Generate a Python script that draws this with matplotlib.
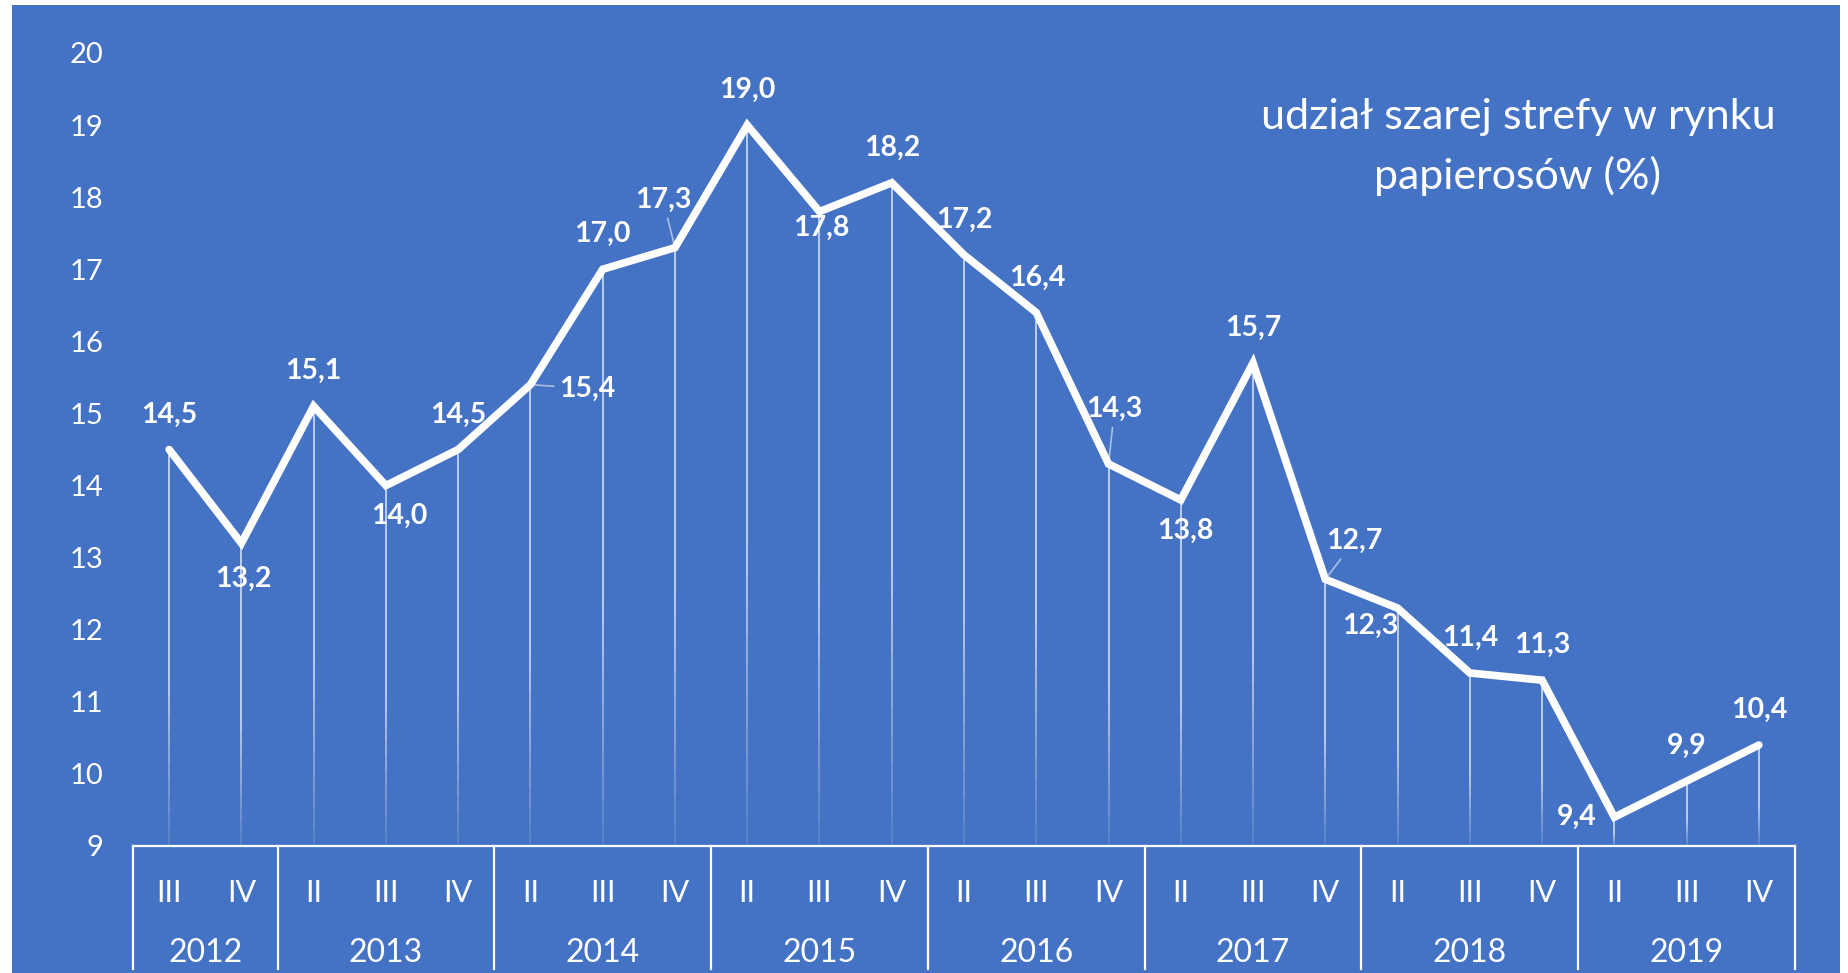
import numpy as np
import matplotlib.pyplot as plt
import matplotlib.transforms as mtransforms
from matplotlib.collections import LineCollection
from matplotlib.patches import Rectangle

plt.rcParams["font.family"] = ["Lato", "DejaVu Sans"]

BLUE = "#4472C4"

years = ["2012", "2013", "2014", "2015", "2016", "2017", "2018", "2019"]
quarters_per_year = [2, 3, 3, 3, 3, 3, 3, 3]
quarters = ["III", "IV",
            "II", "III", "IV",
            "II", "III", "IV",
            "II", "III", "IV",
            "II", "III", "IV",
            "II", "III", "IV",
            "II", "III", "IV",
            "II", "III", "IV"]
share = [14.5, 13.2, 15.1, 14.0, 14.5, 15.4, 17.0, 17.3, 19.0, 17.8, 18.2, 17.2,
         16.4, 14.3, 13.8, 15.7, 12.7, 12.3, 11.4, 11.3, 9.4, 9.9, 10.4]

# label offsets from the point, in pixels (dx right, dy down)
label_offsets = [(0, -35), (2, 36), (0, -35), (13, 30), (0, -35), (57, 4),
                 (0, -35), (-12, -48), (0, -35), (2, 16), (0, -35), (0, -35),
                 (1, -35), (6, -55), (5, 31), (0, -35), (29, -38), (-27, 18),
                 (0, -35), (0, -35), (-38, 0), (0, -35), (0, -35)]
leader_idx = {5, 7, 13, 16}

W, H = 1848, 973
fig = plt.figure(figsize=(W / 100, H / 100), dpi=100, facecolor="white")
bg = Rectangle((12 / W, 0), (1840 - 12) / W, 1 - 5 / H,
               transform=fig.transFigure, facecolor=BLUE, edgecolor="none",
               zorder=-10)
fig.add_artist(bg)

left, right, top, bottom = 133, 1795, 53, 846
ax = fig.add_axes([left / W, 1 - bottom / H, (right - left) / W, (bottom - top) / H])
ax.set_facecolor("none")
ax.set_zorder(1)

x = np.arange(len(share))
ax.set_xlim(-0.5, len(share) - 0.5)
ax.set_ylim(9, 20)

# drop lines, fading toward the axis
segs, cols = [], []
for xi, v in zip(x, share):
    ys = np.linspace(9, v, 25)
    for a, b in zip(ys[:-1], ys[1:]):
        segs.append([(xi, a), (xi, b)])
        frac = (a - 9) / (v - 9)
        cols.append((1, 1, 1, 0.15 + 0.6 * min(1, frac * 2.5)))
ax.add_collection(LineCollection(segs, colors=cols, linewidths=1.2, zorder=2))

ax.plot(x, share, color="white", lw=5.5, solid_joinstyle="miter",
        solid_capstyle="round", zorder=3)

for i, (xi, v) in enumerate(zip(x, share)):
    dx, dy = label_offsets[i]
    txt = f"{v:.1f}".replace(".", ",")
    kw = {}
    if i in leader_idx:
        kw["arrowprops"] = dict(arrowstyle="-", color=(1, 1, 1, 0.55), lw=1.2,
                                shrinkA=2, shrinkB=1)
    ax.annotate(txt, (xi, v), xytext=(dx * 0.72, -dy * 0.72),
                textcoords="offset points", ha="center", va="center",
                color="white", fontsize=20.5, fontweight="bold", zorder=4, **kw)

for s in ax.spines.values():
    s.set_visible(False)
ax.set_yticks(range(9, 21))
ax.tick_params(axis="y", length=0, pad=21, labelsize=21, labelcolor="white")
ax.set_xticks([])

trans = mtransforms.blended_transform_factory(ax.transData, ax.transAxes)
ax.plot([-0.5, len(share) - 0.5], [0, 0], color="white", lw=1.6,
        transform=trans, clip_on=False, zorder=5)

edges = np.concatenate([[0], np.cumsum(quarters_per_year)]) - 0.5
for e in edges:
    ax.plot([e, e], [0, -0.155], color="white", lw=1.6, transform=trans,
            clip_on=False, zorder=5)
for xi, q in zip(x, quarters):
    ax.text(xi, -0.0595, q, transform=trans, ha="center", va="center",
            color="white", fontsize=22)
for y0, y1, yr in zip(edges[:-1], edges[1:], years):
    ax.text((y0 + y1) / 2, -0.1345, yr, transform=trans, ha="center",
            va="center", color="white", fontsize=23)

fig.text(1518 / W, 1 - 117 / H, "udział szarej strefy w rynku", ha="center",
         va="center", color="white", fontsize=31)
fig.text(1518 / W, 1 - 176 / H, "papierosów (%)", ha="center",
         va="center", color="white", fontsize=31)

fig.savefig("out.png", dpi=100, facecolor="white")
